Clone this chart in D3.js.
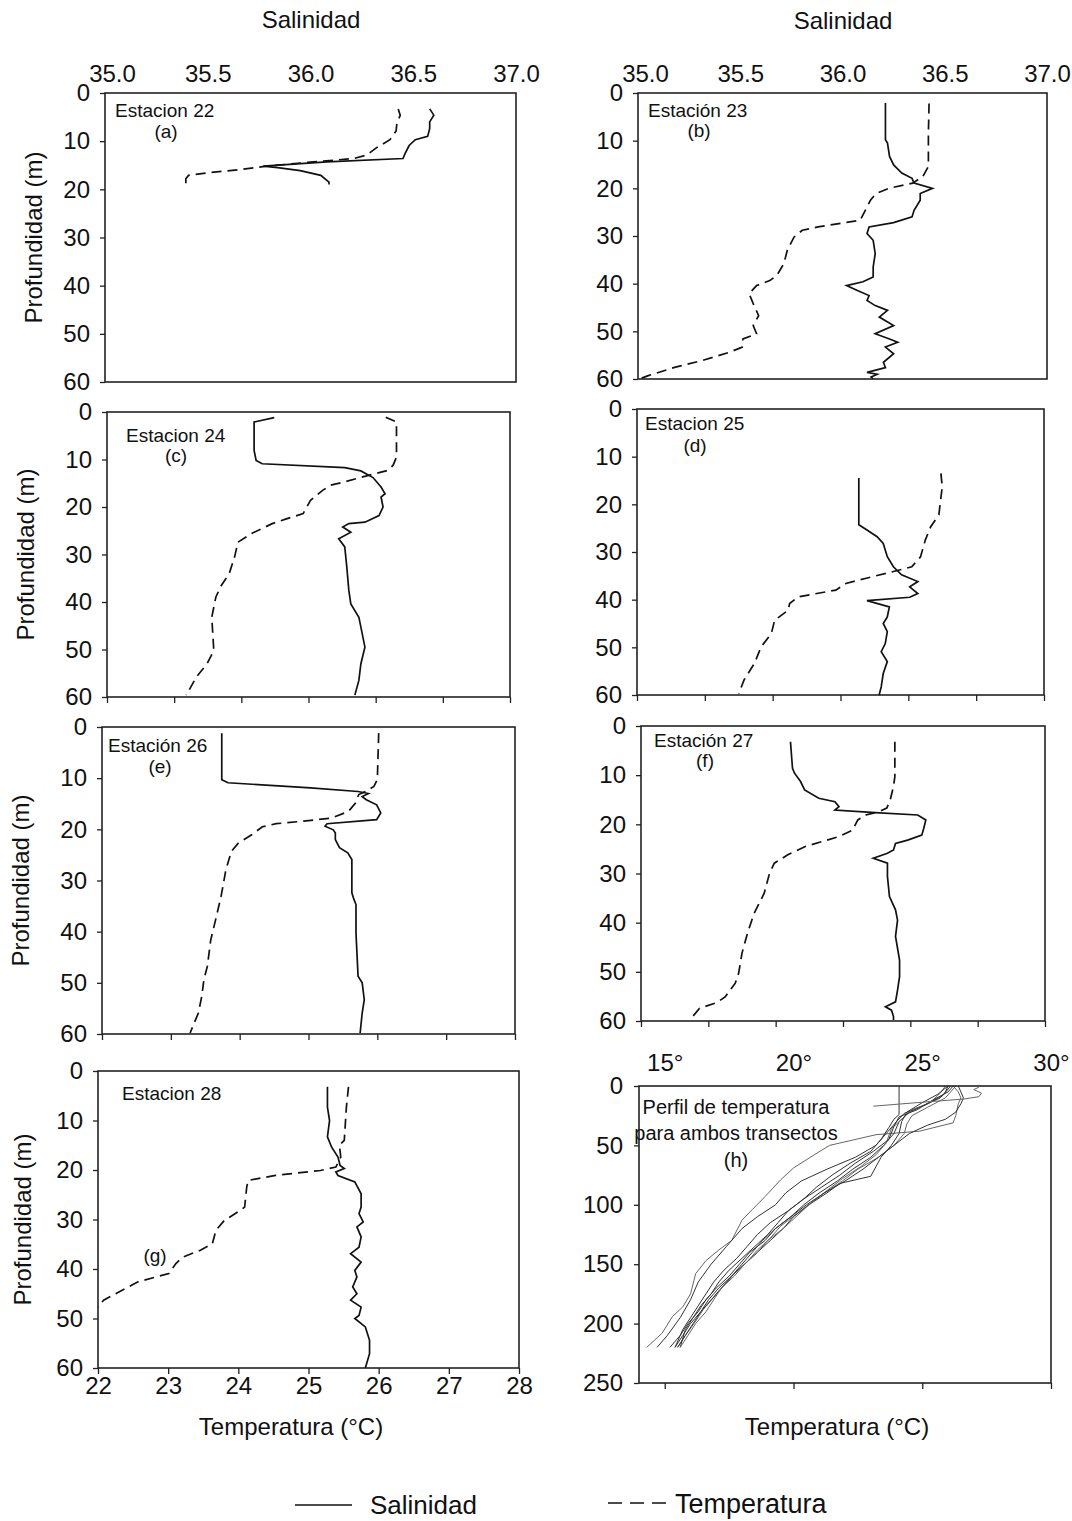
<!DOCTYPE html>
<html>
<head>
<meta charset="utf-8">
<script src="https://cdnjs.cloudflare.com/ajax/libs/d3/7.8.5/d3.min.js"></script>
<style>
body { margin: 0; background: #fff; }
text { font-family: "Liberation Sans", Arial, sans-serif; fill: #111; }
</style>
</head>
<body>
<div id="chart"></div>
<script>
// tick values
var salTicks = [35.0, 35.5, 36.0, 36.5, 37.0];
var tempTicks = [22, 23, 24, 25, 26, 27, 28];
var depthTicks = [0, 10, 20, 30, 40, 50, 60];
var hTempTicks = [15, 20, 25, 30];
var hDepthTicks = [0, 50, 100, 150, 200, 250];

// profiles as [depth (m), value]; sal = salinidad, tem = temperatura (°C)
var sal22 = [[3.3,36.58],[4.6,36.60],[6.0,36.58],[7.4,36.58],[9.0,36.57],[9.7,36.51],[10.9,36.48],[12.6,36.46],[13.6,36.45],[14.3,36.08],[15.2,35.77],[15.5,35.84],[16.1,35.95],[17.1,36.05],[18.5,36.09],[19.0,36.09]];
var tem22 = [[3.3,26.28],[4.6,26.31],[6.4,26.26],[7.9,26.25],[9.7,26.16],[11.3,25.97],[12.9,25.82],[13.6,25.63],[14.3,25.04],[15.2,24.36],[15.9,23.97],[16.6,23.48],[17.1,23.22],[17.8,23.18],[19.0,23.18]];

var sal23 = [[2.1,36.21],[9.8,36.21],[10.5,36.22],[13.3,36.23],[15.1,36.25],[16.8,36.29],[17.9,36.34],[18.9,36.35],[20.0,36.44],[21.1,36.38],[22.5,36.38],[24.6,36.35],[26.0,36.34],[27.2,36.25],[28.1,36.13],[29.5,36.12],[30.9,36.15],[33.7,36.16],[36.5,36.15],[38.6,36.15],[39.6,36.10],[40.4,36.02],[41.4,36.07],[42.5,36.13],[43.5,36.12],[44.6,36.16],[45.6,36.22],[47.0,36.18],[48.8,36.25],[50.5,36.16],[51.6,36.23],[52.3,36.27],[53.3,36.21],[54.7,36.25],[56.5,36.20],[57.6,36.21],[58.6,36.12],[59.0,36.17],[59.6,36.14],[60.0,36.15]];
var tem23 = [[2.2,26.27],[8.4,26.26],[15.4,26.26],[17.5,26.18],[18.9,26.03],[20.0,25.68],[21.1,25.49],[22.5,25.41],[25.3,25.31],[26.7,25.26],[27.2,25.04],[28.1,24.64],[28.8,24.41],[30.2,24.29],[33.0,24.19],[35.8,24.14],[38.2,24.04],[39.3,23.94],[40.4,23.74],[42.1,23.63],[44.2,23.69],[46.7,23.77],[48.8,23.69],[50.5,23.74],[51.6,23.54],[53.3,23.53],[54.4,23.34],[56.1,22.95],[57.5,22.55],[59.3,22.15],[60.0,22.02]];

var sal24 = [[1.2,35.83],[2.1,35.73],[2.5,35.73],[8.1,35.73],[10.2,35.74],[10.9,35.77],[11.7,36.18],[12.4,36.26],[13.8,36.32],[15.8,36.36],[17.2,36.38],[17.9,36.36],[20.0,36.37],[21.8,36.35],[23.2,36.28],[23.5,36.20],[24.2,36.17],[25.3,36.21],[26.7,36.15],[28.4,36.18],[32.6,36.19],[37.5,36.20],[40.4,36.21],[43.2,36.25],[47.4,36.27],[49.5,36.28],[53.0,36.26],[56.5,36.25],[59.6,36.23]];
var tem24 = [[1.1,26.15],[2.1,26.31],[9.5,26.31],[11.2,26.26],[12.3,26.18],[13.5,25.85],[14.7,25.54],[15.4,25.33],[16.5,25.21],[18.6,25.03],[21.4,24.92],[22.5,24.67],[23.5,24.46],[25.6,24.15],[27.4,23.95],[30.5,23.90],[34.0,23.82],[36.8,23.69],[39.0,23.62],[43.2,23.56],[50.2,23.59],[53.0,23.49],[55.8,23.33],[59.6,23.18]];

var sal25 = [[14.5,36.09],[24.3,36.09],[25.4,36.13],[26.8,36.18],[28.2,36.21],[31.0,36.23],[33.1,36.26],[34.8,36.30],[36.2,36.38],[37.3,36.34],[38.7,36.38],[39.5,36.34],[40.2,36.13],[41.5,36.24],[43.6,36.23],[45.0,36.21],[46.7,36.23],[49.2,36.22],[50.9,36.20],[53.0,36.23],[55.5,36.21],[58.3,36.20],[60.0,36.19]];
var tem25 = [[13.5,26.48],[16.3,26.50],[22.2,26.45],[24.7,26.33],[27.5,26.25],[31.0,26.18],[33.1,26.05],[34.1,25.78],[35.5,25.38],[36.6,25.08],[38.0,24.93],[39.4,24.38],[40.8,24.25],[42.2,24.23],[44.3,24.03],[47.1,23.98],[49.9,23.83],[53.4,23.73],[56.8,23.58],[59.7,23.50]];

var sal26 = [[1.2,35.58],[8.3,35.58],[10.3,35.58],[10.9,35.61],[11.9,36.01],[12.6,36.24],[13.0,36.29],[13.6,36.26],[14.2,36.28],[15.2,36.33],[16.8,36.35],[18.1,36.33],[18.9,36.09],[19.4,36.08],[20.1,36.12],[20.7,36.13],[22.0,36.13],[23.6,36.15],[24.6,36.19],[25.9,36.21],[32.4,36.21],[33.7,36.22],[34.7,36.23],[40.3,36.23],[48.7,36.24],[50.0,36.26],[53.3,36.27],[55.9,36.26],[59.8,36.25]];
var tem26 = [[1.2,26.02],[10.3,26.00],[11.6,25.95],[12.6,25.83],[13.2,25.73],[14.9,25.68],[16.5,25.58],[17.8,25.33],[18.4,24.93],[18.9,24.53],[19.5,24.33],[21.0,24.18],[22.7,23.98],[24.3,23.88],[27.9,23.80],[33.1,23.73],[37.7,23.65],[41.6,23.58],[46.8,23.53],[49.4,23.48],[52.6,23.45],[55.9,23.40],[59.8,23.28]];

var sal27 = [[3.2,35.74],[8.6,35.75],[9.6,35.76],[11.3,35.79],[13.0,35.81],[14.7,35.88],[15.4,35.96],[16.4,35.98],[17.1,35.96],[17.6,36.16],[18.1,36.37],[19.1,36.41],[20.8,36.40],[22.2,36.39],[23.2,36.32],[23.9,36.26],[25.2,36.25],[25.9,36.22],[26.9,36.15],[27.9,36.22],[30.6,36.22],[34.7,36.23],[37.4,36.26],[39.5,36.27],[42.8,36.26],[47.6,36.28],[51.0,36.28],[53.7,36.27],[56.1,36.26],[57.1,36.21],[57.8,36.24],[59.1,36.25],[59.8,36.25]];
var tem27 = [[3.2,25.77],[10.3,25.77],[12.3,25.75],[15.1,25.70],[16.7,25.65],[17.4,25.54],[18.1,25.34],[19.1,25.22],[21.2,25.14],[22.5,24.94],[23.5,24.69],[24.5,24.44],[26.2,24.18],[27.9,23.98],[29.9,23.91],[34.0,23.83],[38.1,23.68],[42.2,23.58],[46.2,23.50],[50.3,23.45],[52.3,23.40],[55.1,23.25],[56.3,23.12],[57.4,22.87],[59.4,22.75]];

var sal28 = [[3.2,36.09],[7.3,36.09],[10.0,36.10],[13.3,36.09],[15.4,36.11],[17.4,36.14],[19.1,36.15],[19.7,36.17],[20.4,36.13],[21.1,36.14],[22.4,36.22],[24.8,36.25],[27.5,36.25],[28.8,36.24],[30.5,36.26],[31.5,36.23],[33.5,36.25],[35.6,36.24],[36.9,36.20],[38.6,36.25],[40.3,36.22],[41.6,36.23],[43.6,36.21],[45.0,36.23],[46.3,36.20],[47.7,36.25],[49.4,36.24],[50.0,36.22],[51.7,36.27],[54.4,36.29],[57.1,36.29],[60.0,36.27]];
var tem28 = [[3.2,25.57],[7.3,25.54],[14.0,25.51],[15.0,25.44],[17.4,25.46],[19.4,25.39],[20.1,25.17],[21.1,24.53],[22.1,24.14],[23.4,24.12],[27.5,24.09],[28.5,23.99],[30.2,23.80],[32.2,23.68],[34.9,23.63],[36.2,23.46],[37.6,23.21],[38.9,23.11],[40.9,23.01],[42.6,22.57],[46.3,22.08],[47.7,22.00]];

// panel (h): temperature profiles of both transects, [depth (m), °C]
var perfil1 = [[0,26.2],[5,26.4],[10,26.5],[15,26.4],[25,26.3],[31,26.2],[38,24.9],[41,23.2],[50,21.4],[58,20.8],[69,20.0],[79,19.5],[93,18.9],[104,18.4],[113,18.0],[130,17.6],[138,17.1],[147,16.6],[158,16.2],[175,16.0],[186,15.7],[194,15.3],[208,14.9],[220,14.3]];
var perfil2 = [[0,26.0],[5,25.9],[10,25.7],[17,25.0],[23,24.3],[30,24.0],[40,23.6],[50,23.2],[60,22.4],[70,21.3],[80,20.3],[90,19.7],[100,19.3],[110,18.6],[120,18.0],[135,17.4],[150,16.8],[165,16.3],[180,16.0],[195,15.6],[210,15.1],[220,14.7]];
var perfil3 = [[0,26.1],[8,25.8],[15,25.2],[22,24.5],[30,24.1],[40,23.9],[50,23.5],[60,23.0],[70,22.3],[80,21.7],[90,21.0],[100,20.4],[110,19.9],[120,19.3],[130,18.8],[140,18.4],[150,18.0],[160,17.6],[170,17.1],[180,16.7],[190,16.4],[200,16.0],[210,15.7],[220,15.4]];
var perfil4 = [[0,25.9],[6,25.7],[14,25.3],[20,24.6],[28,24.2],[36,23.8],[48,23.6],[58,23.2],[68,22.6],[78,21.9],[88,21.3],[98,20.7],[108,20.1],[118,19.5],[128,19.1],[138,18.6],[148,18.2],[158,17.7],[168,17.3],[178,16.9],[188,16.5],[198,16.2],[210,15.8],[220,15.5]];
var perfil5 = [[0,26.2],[5,26.0],[12,25.4],[20,24.8],[26,24.1],[34,23.9],[45,23.7],[55,23.1],[65,22.4],[75,21.8],[85,21.1],[95,20.4],[105,19.8],[115,19.4],[125,19.0],[135,18.5],[145,18.0],[155,17.5],[165,17.1],[175,16.8],[185,16.4],[195,16.1],[205,15.8],[220,15.6]];
var perfil6 = [[0,26.0],[7,25.6],[14,25.0],[22,24.4],[30,24.2],[40,24.1],[50,23.8],[60,23.4],[68,23.2],[76,23.0],[82,21.8],[90,21.3],[100,20.6],[110,20.0],[120,19.6],[130,19.1],[140,18.6],[150,18.1],[160,17.6],[170,17.2],[180,16.8],[190,16.4],[200,16.1],[210,15.8],[220,15.5]];
var perfil7 = [[0,26.3],[10,25.9],[18,25.2],[25,24.6],[32,24.4],[40,24.3],[50,23.9],[60,23.3],[70,22.5],[80,21.9],[90,21.2],[100,20.6],[110,20.1],[120,19.6],[130,19.0],[140,18.6],[150,18.1],[160,17.7],[170,17.2],[180,16.9],[190,16.6],[200,16.2],[210,15.9],[220,15.6]];
var perfil8 = [[0,24.1],[10,24.1],[20,24.1],[24,24.1],[28,23.9],[35,23.7],[45,23.4],[55,23.0],[65,22.2],[75,21.5],[85,20.9],[95,20.4],[105,19.8],[115,19.1],[125,18.6],[135,18.2],[145,17.8],[155,17.3],[165,16.9],[175,16.6],[185,16.3],[195,16.0],[205,15.7],[220,15.4]];
var perfil9 = [[0,26.4],[5,26.5],[10,26.6],[15,26.5],[22,26.3],[28,25.9],[33,25.2],[40,24.5],[50,23.9],[60,23.3],[70,22.7],[80,22.0],[90,21.2],[100,20.5],[110,19.9],[120,19.3],[130,18.9],[140,18.3],[150,17.9],[160,17.5],[170,17.0],[180,16.6],[190,16.3],[200,15.9],[210,15.6],[220,15.2]];
var perfil10 = [[1,27.2],[3,27.0],[6,27.3],[9,27.2],[11,26.6],[14,24.8],[17,23.1]];

var width = 1072, height = 1521;

var svg = d3.select('#chart')
	.append('svg')
	.attr('width', width)
	.attr('height', height);

// panel boxes [left, right, top, bottom] and label spots
var panels = [
	{sal: sal22, tem: tem22, box: [105, 516, 93, 382], name: 'Estacion 22', nameAt: [115, 110], tag: '(a)', tagAt: [166, 131], top: true, yTitle: 34},
	{sal: sal23, tem: tem23, box: [638, 1047, 93, 379], name: 'Estación 23', nameAt: [648, 110], tag: '(b)', tagAt: [699, 130], top: true},
	{sal: sal24, tem: tem24, box: [107, 510, 412, 697], name: 'Estacion 24', nameAt: [126, 435], tag: '(c)', tagAt: [176, 455], ticks: true, yTitle: 26},
	{sal: sal25, tem: tem25, box: [637, 1044, 409, 695], name: 'Estacion 25', nameAt: [645, 423], tag: '(d)', tagAt: [695, 445], ticks: true},
	{sal: sal26, tem: tem26, box: [102, 515, 727, 1034], name: 'Estación 26', nameAt: [108, 745], tag: '(e)', tagAt: [160, 766], ticks: true, yTitle: 21},
	{sal: sal27, tem: tem27, box: [641, 1045, 726, 1021], name: 'Estación 27', nameAt: [654, 740], tag: '(f)', tagAt: [705, 760], ticks: true},
	{sal: sal28, tem: tem28, box: [98, 519, 1071, 1368], name: 'Estacion 28', nameAt: [122, 1093], tag: '(g)', tagAt: [155, 1255], ticks: true, labels: true, yTitle: 23}
];

function styleAxis(g, size) {
	g.select('.domain').remove();
	g.attr('font-size', size).attr('font-family', null);
	g.selectAll('line').attr('stroke', '#222').attr('stroke-width', 1.3);
}

function drawFrame(L, R, T, B) {
	svg.append('rect')
		.attr('x', L).attr('y', T)
		.attr('width', R - L).attr('height', B - T)
		.attr('fill', 'none')
		.attr('stroke', '#222')
		.attr('stroke-width', 1.6);
}

function yTitle(x, yc) {
	svg.append('text')
		.attr('transform', 'translate(' + x + ',' + yc + ') rotate(-90)')
		.attr('text-anchor', 'middle')
		.attr('dy', '0.35em')
		.attr('font-size', 24)
		.text('Profundidad (m)');
}

panels.forEach(function(p) {
	var L = p.box[0], R = p.box[1], T = p.box[2], B = p.box[3];

	var x_sal = d3.scaleLinear().domain([35, 37]).range([L, R]);
	var x_tem = d3.scaleLinear().domain([22, 28]).range([L, R]);
	var y_scale = d3.scaleLinear().domain([0, 60]).range([T, B]);

	// depth axis
	svg.append('g')
		.attr('transform', 'translate(' + L + ',0)')
		.call(d3.axisLeft(y_scale).tickValues(depthTicks).tickSize(5).tickPadding(10))
		.call(styleAxis, 24);

	if (p.top) {
		var topAxis = svg.append('g')
			.attr('transform', 'translate(0,' + T + ')')
			.call(d3.axisTop(x_sal).tickValues(salTicks).tickFormat(d3.format('.1f')).tickSize(0).tickPadding(11))
			.call(styleAxis, 24);
		// first label sits a bit right, over the "0"
		topAxis.selectAll('.tick text').filter(function(d) { return d == 35; }).attr('dx', 7);
	}
	if (p.ticks) {
		svg.append('g')
			.attr('transform', 'translate(0,' + B + ')')
			.call(d3.axisBottom(x_tem).tickValues(tempTicks).tickSize(6).tickPadding(3)
				.tickFormat(p.labels ? d3.format('d') : function() { return ''; }))
			.call(styleAxis, 24);
	}

	drawFrame(L, R, T, B);

	var salLine = d3.line()
		.x(function(d) { return x_sal(d[1]); })
		.y(function(d) { return y_scale(d[0]); });
	var temLine = d3.line()
		.x(function(d) { return x_tem(d[1]); })
		.y(function(d) { return y_scale(d[0]); });

	svg.append('path')
		.datum(p.tem)
		.attr('d', temLine)
		.attr('fill', 'none')
		.attr('stroke', '#111')
		.attr('stroke-width', 1.7)
		.attr('stroke-dasharray', '10,6');

	svg.append('path')
		.datum(p.sal)
		.attr('d', salLine)
		.attr('fill', 'none')
		.attr('stroke', '#111')
		.attr('stroke-width', 1.7);

	// station labels
	svg.append('text')
		.attr('x', p.nameAt[0]).attr('y', p.nameAt[1])
		.attr('dy', '0.35em')
		.attr('font-size', 19)
		.text(p.name);
	svg.append('text')
		.attr('x', p.tagAt[0]).attr('y', p.tagAt[1])
		.attr('dy', '0.35em')
		.attr('text-anchor', 'middle')
		.attr('font-size', 19)
		.text(p.tag);

	if (p.yTitle) yTitle(p.yTitle, (T + B) / 2);
});

// Salinidad titles on top
[[311, 20], [843, 21]].forEach(function(c) {
	svg.append('text')
		.attr('x', c[0]).attr('y', c[1])
		.attr('dy', '0.35em')
		.attr('text-anchor', 'middle')
		.attr('font-size', 24)
		.text('Salinidad');
});

// Temperatura titles below bottom panels
[[291, 1427], [837, 1427]].forEach(function(c) {
	svg.append('text')
		.attr('x', c[0]).attr('y', c[1])
		.attr('dy', '0.35em')
		.attr('text-anchor', 'middle')
		.attr('font-size', 24)
		.text('Temperatura (°C)');
});

// panel (h)
var hL = 639, hR = 1051, hT = 1086, hB = 1383;
var x_h = d3.scaleLinear().domain([14, 30]).range([hL, hR]);
var y_h = d3.scaleLinear().domain([0, 250]).range([hT, hB]);

svg.append('g')
	.attr('transform', 'translate(' + hL + ',0)')
	.call(d3.axisLeft(y_h).tickValues(hDepthTicks).tickSize(5).tickPadding(11))
	.call(styleAxis, 24);
svg.append('g')
	.attr('transform', 'translate(0,' + hT + ')')
	.call(d3.axisTop(x_h).tickValues(hTempTicks).tickSize(0).tickPadding(15)
		.tickFormat(function(d) { return d + '°'; }))
	.call(styleAxis, 24);
svg.append('g')
	.attr('transform', 'translate(0,' + hB + ')')
	.call(d3.axisBottom(x_h).tickValues(hTempTicks).tickSize(6).tickFormat(function() { return ''; }))
	.call(styleAxis, 24);

var hLine = d3.line()
	.x(function(d) { return x_h(d[1]); })
	.y(function(d) { return y_h(d[0]); });

svg.append('g').selectAll('path')
	.data([perfil1, perfil2, perfil3, perfil4, perfil5, perfil6, perfil7, perfil8, perfil9, perfil10])
	.enter()
	.append('path')
	.attr('d', hLine)
	.attr('fill', 'none')
	.attr('stroke', function(d, i) { return i % 3 == 0 ? '#666' : '#333'; })
	.attr('stroke-width', 1);

drawFrame(hL, hR, hT, hB);

[['Perfil de temperatura', 1107], ['para ambos transectos', 1133], ['(h)', 1160]].forEach(function(t) {
	svg.append('text')
		.attr('x', 736).attr('y', t[1])
		.attr('dy', '0.35em')
		.attr('text-anchor', 'middle')
		.attr('font-size', 20)
		.text(t[0]);
});

// legend
svg.append('line')
	.attr('x1', 295).attr('x2', 352)
	.attr('y1', 1505).attr('y2', 1505)
	.attr('stroke', '#111').attr('stroke-width', 1.7);
svg.append('text')
	.attr('x', 370).attr('y', 1514)
	.attr('font-size', 26)
	.text('Salinidad');
svg.append('line')
	.attr('x1', 608).attr('x2', 666)
	.attr('y1', 1503).attr('y2', 1503)
	.attr('stroke', '#111').attr('stroke-width', 1.7)
	.attr('stroke-dasharray', '14,8');
svg.append('text')
	.attr('x', 675).attr('y', 1513)
	.attr('font-size', 27)
	.text('Temperatura');
</script>
</body>
</html>
